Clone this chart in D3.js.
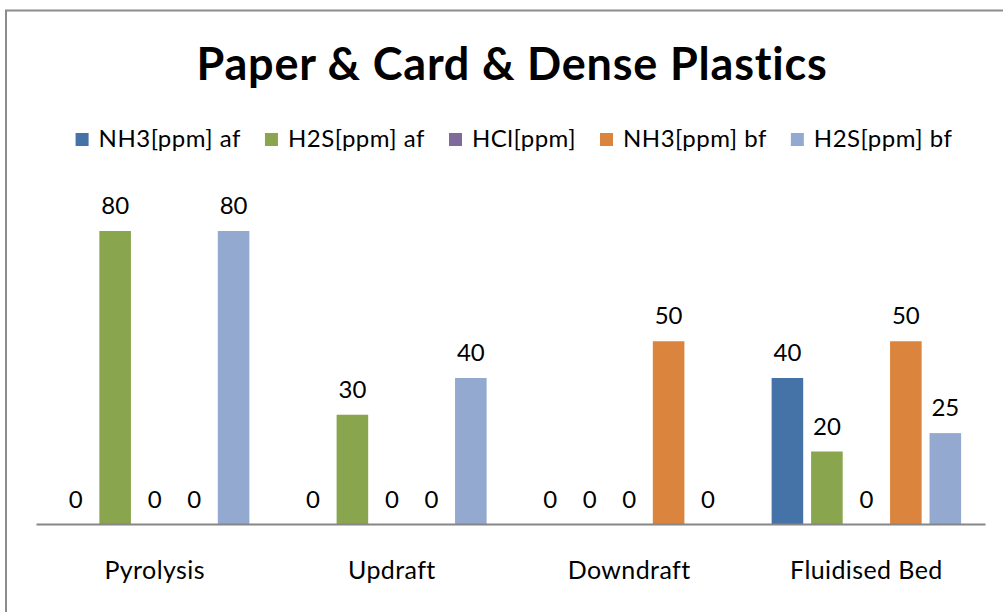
<!DOCTYPE html>
<html>
<head>
<meta charset="utf-8">
<script src="https://cdn.jsdelivr.net/npm/d3@7"></script>
<style>
  html, body { margin: 0; padding: 0; background: #ffffff; }
  svg { display: block; }
  text { font-family: Lato, "Open Sans", sans-serif; fill: #000; }
</style>
</head>
<body>
<svg id="chart" width="1003" height="612"></svg>
<script>
const title = "Paper & Card & Dense Plastics";
const categories = ["Pyrolysis", "Updraft", "Downdraft", "Fluidised Bed"];
const seriesNames = ["NH3[ppm] af", "H2S[ppm] af", "HCl[ppm]", "NH3[ppm] bf", "H2S[ppm] bf"];
const seriesColors = ["#4572A7", "#89A54E", "#80699B", "#DB843D", "#93A9CF"];
const nh3Af = [0, 0, 0, 40];
const h2sAf = [80, 30, 0, 20];
const hcl   = [0, 0, 0, 0];
const nh3Bf = [0, 0, 50, 50];
const h2sBf = [80, 40, 0, 25];
const seriesValues = [nh3Af, h2sAf, hcl, nh3Bf, h2sBf];
const yMax = 90;

const svg = d3.select("#chart");
const centerX = 512;

// outer chart border (extends past the picture on the right and bottom)
svg.append("rect")
  .attr("x", 6).attr("y", 10.5)
  .attr("width", 1020).attr("height", 640)
  .attr("fill", "#fff")
  .attr("stroke", "#8c8c8c").attr("stroke-width", 2);

// title
svg.append("text")
  .attr("x", centerX).attr("y", 80)
  .attr("text-anchor", "middle")
  .style("font-size", "45px").style("font-weight", "bold")
  .style("letter-spacing", "0.8px")
  .text(title);

// scales
const plot = { left: 36, right: 985, bottom: 525 };
const x = d3.scaleBand().domain(categories).range([plot.left, plot.right]).padding(0);
const groupW = 189.5;
const xi = d3.scaleBand().domain(d3.range(seriesNames.length))
  .range([(x.bandwidth() - groupW) / 2, (x.bandwidth() + groupW) / 2])
  .paddingInner(0.2).paddingOuter(0);
const y = d3.scaleLinear().domain([0, yMax]).range([plot.bottom, plot.bottom - 3.675 * yMax]);

// data table
const rows = [];
seriesNames.forEach((s, si) => {
  categories.forEach((c, ci) => {
    rows.push({ series: si, cat: c, value: seriesValues[si][ci] });
  });
});

// bars
svg.append("g").selectAll("rect").data(rows).join("rect")
  .attr("x", d => x(d.cat) + xi(d.series))
  .attr("width", xi.bandwidth())
  .attr("y", d => y(d.value))
  .attr("height", d => y(0) - y(d.value))
  .attr("fill", d => seriesColors[d.series]);

// axis line (category axis, no ticks)
const xAxis = d3.axisBottom(x).tickSize(0).tickPadding(0);
const gx = svg.append("g").attr("transform", `translate(0,${524})`).call(xAxis);
gx.select(".domain").attr("stroke", "#868686").attr("stroke-width", 2);
gx.selectAll(".tick text")
  .attr("y", 55).attr("dy", 0)
  .style("font-size", "25px")
  .style("letter-spacing", "0.4px")
  .style("font-family", "Lato, 'Open Sans', sans-serif")
  .attr("fill", "#000");

// value labels
svg.append("g").selectAll("text").data(rows).join("text")
  .attr("x", d => x(d.cat) + xi(d.series) + xi.bandwidth() / 2)
  .attr("y", d => y(d.value) - 17)
  .attr("text-anchor", "middle")
  .style("font-size", "24px")
  .text(d => d3.format("d")(d.value));

// legend
const lg = svg.append("g");
let cursor = 0;
const sw = 13, swGap = 10, itemGap = 24;
seriesNames.forEach((name, i) => {
  const g = lg.append("g").attr("transform", `translate(${cursor},0)`);
  g.append("rect").attr("x", 0).attr("y", -14).attr("width", sw).attr("height", sw)
    .attr("fill", seriesColors[i]);
  const t = g.append("text").attr("x", sw + swGap).attr("y", 0)
    .style("font-size", "24px").style("letter-spacing", "0.5px").text(name);
  cursor += sw + swGap + t.node().getComputedTextLength() + itemGap;
});
const legendW = cursor - itemGap;
lg.attr("transform", `translate(${centerX + 2 - legendW / 2},147)`);
</script>
</body>
</html>
